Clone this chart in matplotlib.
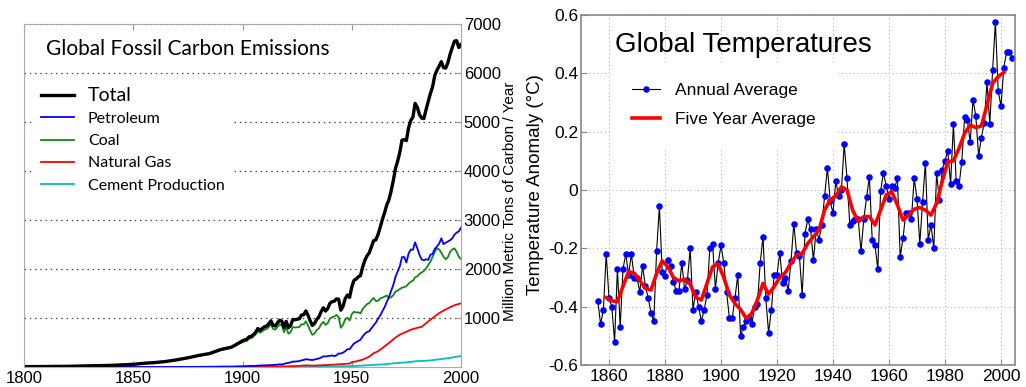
import matplotlib.pyplot as plt
import numpy as np

plt.rcParams['font.family'] = ['Liberation Sans', 'DejaVu Sans']

# ---- fossil carbon emissions (million metric tons of carbon per year) ----
early_years = [1800, 1810, 1820, 1830, 1840, 1850, 1855, 1860, 1865, 1870,
               1875, 1880, 1885, 1890, 1895]
modern_years = list(range(1900, 2001))

total_early = [8, 10, 14, 24, 33, 54, 76, 91, 113, 147, 188, 236, 275, 356, 405]
total_modern = [
    534, 552, 566, 617, 624, 663, 707, 784, 750, 785,
    819, 836, 879, 943, 850, 838, 901, 955, 936, 806,
    932, 803, 845, 970, 963, 975, 983, 1062, 1065, 1145,
    1053, 940, 847, 893, 973, 1027, 1130, 1209, 1142, 1192,
    1299, 1334, 1342, 1391, 1383, 1160, 1238, 1392, 1469, 1419,
    1630, 1767, 1795, 1841, 1865, 2042, 2177, 2270, 2330, 2454,
    2577, 2594, 2700, 2848, 3008, 3145, 3305, 3411, 3588, 3800,
    4050, 4200, 4380, 4630, 4640, 4620, 4880, 5030, 5100, 5380,
    5300, 5150, 5080, 5070, 5250, 5420, 5580, 5720, 5950, 6060,
    6140, 6230, 6110, 6100, 6210, 6380, 6520, 6650, 6660, 6520,
    6580]

coal_early = [8, 10, 14, 24, 33, 54, 76, 91, 113, 146, 186, 233, 270, 347, 396]
coal_modern = [
    507, 522, 535, 582, 586, 624, 665, 737, 698, 729,
    760, 774, 813, 873, 778, 761, 820, 869, 850, 710,
    815, 680, 711, 814, 807, 811, 815, 873, 869, 932,
    847, 740, 655, 686, 756, 790, 873, 922, 860, 896,
    990, 1016, 1031, 1063, 1015, 801, 859, 971, 1005, 951,
    1077, 1129, 1113, 1116, 1093, 1185, 1235, 1284, 1303, 1366,
    1410, 1348, 1350, 1398, 1416, 1435, 1460, 1410, 1424, 1465,
    1540, 1560, 1590, 1620, 1630, 1650, 1700, 1740, 1760, 1830,
    1850, 1900, 1930, 1960, 2010, 2080, 2150, 2250, 2350, 2420,
    2400, 2330, 2250, 2200, 2240, 2350, 2400, 2420, 2350, 2250,
    2200]

petroleum_early = [0, 0, 0, 0, 0, 0, 0, 0, 0, 1, 2, 3, 5, 9, 9]
petroleum_modern = [
    16, 18, 19, 21, 24, 23, 23, 28, 30, 32,
    34, 36, 37, 41, 42, 45, 48, 54, 53, 61,
    78, 84, 94, 111, 110, 116, 119, 136, 143, 160,
    152, 147, 141, 154, 162, 176, 192, 219, 214, 222,
    229, 236, 222, 239, 275, 275, 292, 322, 364, 362,
    423, 479, 504, 533, 557, 625, 679, 714, 731, 789,
    849, 904, 980, 1052, 1137, 1219, 1323, 1423, 1551, 1673,
    1839, 1947, 2057, 2241, 2245, 2132, 2314, 2398, 2392, 2544,
    2422, 2289, 2196, 2176, 2199, 2186, 2293, 2306, 2412, 2459,
    2517, 2627, 2506, 2537, 2562, 2586, 2624, 2701, 2743, 2769,
    2846]

gas_years = [1800, 1885, 1900, 1910, 1920, 1925, 1929, 1932, 1935, 1940,
             1945, 1949, 1950, 1952, 1955, 1958, 1960, 1962, 1965, 1967,
             1970, 1972, 1974, 1975, 1977, 1980, 1982, 1985, 1987, 1990,
             1992, 1995, 1997, 2000]
gas_values = [0, 0, 3, 8, 12, 20, 34, 28, 33, 44,
              57, 70, 97, 115, 150, 210, 280, 320, 420, 490,
              600, 660, 700, 720, 760, 800, 820, 930, 1000, 1100,
              1150, 1220, 1260, 1300]

cement_years = [1800, 1920, 1930, 1940, 1950, 1955, 1960, 1965, 1970, 1975,
                1980, 1985, 1990, 1995, 2000]
cement_values = [0, 3, 6, 10, 18, 30, 43, 56, 78, 95,
                 120, 130, 157, 185, 225]

carbon_ticks = [1000, 2000, 3000, 4000, 5000, 6000, 7000]
carbon_year_ticks = [1800, 1850, 1900, 1950, 2000]

# ---- global temperature anomaly (deg C) ----
temp_years = list(range(1856, 2005))
temp_annual = [
    -0.38, -0.46, -0.41, -0.22,
    -0.37, -0.40, -0.52, -0.27, -0.47, -0.27, -0.22, -0.29, -0.22, -0.30,
    -0.30, -0.35, -0.26, -0.33, -0.37, -0.42, -0.45, -0.21, -0.055, -0.28,
    -0.295, -0.24, -0.26, -0.315, -0.345, -0.345, -0.25, -0.34, -0.31, -0.20,
    -0.41, -0.35, -0.40, -0.45, -0.41, -0.36, -0.20, -0.185, -0.34, -0.25,
    -0.19, -0.25, -0.35, -0.44, -0.44, -0.37, -0.29, -0.50, -0.47, -0.45,
    -0.44, -0.46, -0.40, -0.39, -0.25, -0.16, -0.37, -0.49, -0.41, -0.29,
    -0.29, -0.215, -0.32, -0.30, -0.345, -0.245, -0.115, -0.215, -0.225, -0.36,
    -0.15, -0.10, -0.135, -0.24, -0.135, -0.17, -0.12, -0.02, 0.077, -0.037,
    -0.08, 0.03, -0.02, 0.0, 0.158, 0.04, -0.12, -0.105, -0.10, -0.10,
    -0.21, -0.10, -0.025, 0.045, -0.17, -0.19, -0.27, -0.005, 0.06, 0.014,
    -0.03, 0.014, 0.007, 0.04, -0.23, -0.165, -0.08, -0.08, -0.10, 0.04,
    -0.03, -0.185, -0.04, 0.094, -0.17, -0.12, -0.20, 0.057, -0.035, 0.07,
    0.10, 0.134, 0.02, 0.226, 0.03, 0.015, 0.097, 0.25, 0.24, 0.163,
    0.31, 0.254, 0.117, 0.18, 0.23, 0.37, 0.226, 0.41, 0.577, 0.338,
    0.288, 0.42, 0.472, 0.472, 0.451]

smooth_years = list(range(1859, 2002, 2))
temp_smooth = [
    -0.369, -0.38, -0.383, -0.33, -0.28, -0.285, -0.31, -0.337, -0.343, -0.286,
    -0.243, -0.263, -0.30, -0.312, -0.306, -0.323, -0.368, -0.377, -0.32, -0.263,
    -0.254, -0.30, -0.36, -0.389, -0.41, -0.44, -0.423, -0.377, -0.32, -0.357,
    -0.331, -0.30, -0.283, -0.25, -0.223, -0.217, -0.183, -0.16, -0.137, -0.069,
    -0.034, -0.02, 0.011, 0.0, -0.069, -0.108, -0.091, -0.091, -0.12, -0.069,
    -0.017, -0.006, -0.051, -0.103, -0.086, -0.066, -0.06, -0.069, -0.086, -0.046,
    0.029, 0.097, 0.10, 0.143, 0.194, 0.223, 0.214, 0.22, 0.291, 0.366,
    0.389, 0.403]

temp_ticks = [-0.6, -0.4, -0.2, 0, 0.2, 0.4, 0.6]
temp_tick_labels = ['-0.6', '-0.4', '-0.2', '0', '0.2', '0.4', '0.6']
temp_year_ticks = list(range(1860, 2001, 20))

W, H = 1026, 387
fig = plt.figure(figsize=(W / 100, H / 100), dpi=100)

# ---------------- left: carbon emissions ----------------
ax1 = fig.add_axes([24 / W, 20 / H, 437 / W, 343 / H])
years = early_years + modern_years
ax1.plot(cement_years, cement_values, color='#00c0c0', lw=1.3, label='Cement Production')
ax1.plot(gas_years, gas_values, color='#ff0000', lw=1.3, label='Natural Gas')
ax1.plot(years, coal_early + coal_modern, color='#118811', lw=1.3, label='Coal')
ax1.plot(years, petroleum_early + petroleum_modern, color='#0000ff', lw=1.3, label='Petroleum')
ax1.plot(years, total_early + total_modern, color='black', lw=2.4, label='Total')

ax1.set_xlim(1800, 2000)
ax1.set_ylim(0, 7000)
ax1.set_xticks(carbon_year_ticks)
ax1.set_yticks(carbon_ticks)
ax1.yaxis.tick_right()
ax1.tick_params(axis='both', direction='in', length=4, color='#999999',
                labelsize=12, pad=3, top=True, bottom=True)
ax1.tick_params(axis='y', pad=2)
ax1.yaxis.grid(True, linestyle=(0, (1.2, 3)), color='#444444', lw=0.9)
for s in ax1.spines.values():
    s.set_color('#aaaaaa')

ax1.text(0.05, 0.927, 'Global Fossil Carbon Emissions', transform=ax1.transAxes,
         fontsize=15, family=['Lato', 'DejaVu Sans'], va='center', ha='left')

handles, labels = ax1.get_legend_handles_labels()
order = [4, 3, 2, 1, 0]
leg1 = ax1.legend([handles[i] for i in order], [labels[i] for i in order],
                  loc='upper left', bbox_to_anchor=(0.02, 0.84),
                  prop={'family': ['Lato', 'DejaVu Sans'], 'size': 11.5},
                  frameon=True, facecolor='white', edgecolor='white', framealpha=1,
                  fancybox=False, handlelength=2.1, handletextpad=0.85,
                  labelspacing=0.5, borderpad=0.5, borderaxespad=0)
leg1.get_texts()[0].set_fontsize(14)

# ---------------- right: temperatures ----------------
ax2 = fig.add_axes([581 / W, 22 / H, 434 / W, 350 / H])
ax2.plot(temp_years, temp_annual, color='black', lw=0.8, marker='o',
         markersize=3.7, markerfacecolor='#0000ff', markeredgecolor='#0000ff',
         label='Annual Average', clip_on=False)
ax2.plot(smooth_years, temp_smooth, color='#ff0000', lw=2.6,
         solid_joinstyle='round', label='Five Year Average')

ax2.set_xlim(1850, 2005)
ax2.set_ylim(-0.6, 0.6)
ax2.set_xticks(temp_year_ticks)
ax2.set_yticks(temp_ticks)
ax2.set_yticklabels(temp_tick_labels)
ax2.tick_params(axis='both', direction='in', length=4, color='#888888',
                labelsize=12.5, pad=3)
ax2.tick_params(axis='y', pad=2)
ax2.grid(True, linestyle=(0, (1, 2.5)), color='#bbbbbb', lw=0.8)
for s in ax2.spines.values():
    s.set_color('#888888')
    s.set_linewidth(1.2)

ax2.text(0.078, 0.914, 'Global Temperatures', transform=ax2.transAxes,
         fontsize=20, va='center', ha='left')

ax2.legend(loc='upper left', bbox_to_anchor=(0.07, 0.865), fontsize=12.5,
           frameon=True, facecolor='white', edgecolor='white', framealpha=1,
           fancybox=False, handlelength=1.6, handletextpad=0.85,
           labelspacing=0.78, borderpad=1.2, borderaxespad=0)

# the two y-axis titles sit side by side between the panels
fig.text(510 / W, 1 - 201 / H, 'Million Metric Tons of Carbon / Year',
         rotation=90, ha='center', va='center', fontsize=11)
fig.text(535 / W, 1 - 185 / H, 'Temperature Anomaly (\u00b0C)',
         rotation=90, ha='center', va='center', fontsize=13.5)

fig.savefig('out.png', dpi=100)
